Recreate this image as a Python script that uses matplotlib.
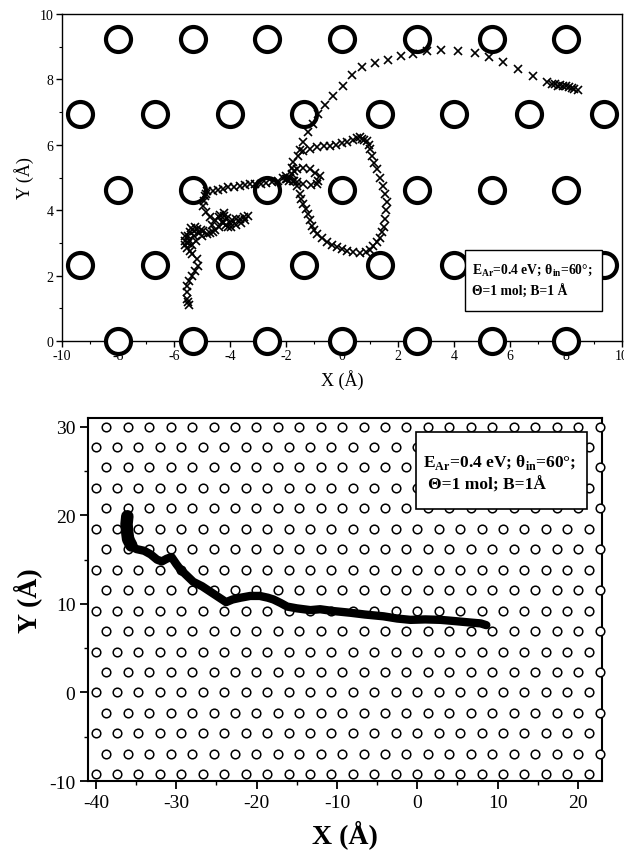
import numpy as np
import matplotlib
matplotlib.use('Agg')
import matplotlib.pyplot as plt
from matplotlib.patches import Rectangle

plt.rcParams['font.family'] = ['Liberation Serif', 'DejaVu Serif']
plt.rcParams['mathtext.fontset'] = 'custom'
plt.rcParams['mathtext.rm'] = 'Liberation Serif'
plt.rcParams['mathtext.bf'] = 'Liberation Serif:bold'
plt.rcParams['axes.unicode_minus'] = False

# ---- top panel: surface atoms (5 rows) ----
top_even_x = [-8.01, -5.34, -2.67, 0.0, 2.67, 5.34, 8.01]
top_odd_x = [-9.35, -6.68, -4.01, -1.34, 1.34, 4.01, 6.68, 9.35]
top_even_y = [0.0, 4.62, 9.24]
top_odd_y = [2.31, 6.93]

# trajectory crosses
traj1_x = [8.43, 8.3, 8.2, 8.1, 8.0, 7.9, 7.8, 7.7, 7.6, 7.5, 7.32,
           6.82, 6.29, 5.75, 5.25, 4.75, 4.14, 3.54, 3.04, 2.54, 2.11, 1.64,
           1.18, 0.71, 0.36, 0.04, -0.32, -0.61, -0.86, -1.05, -1.21, -1.39,
           -1.5, -1.57,
           -1.39, -1.15, -0.89, -0.65, -0.43, -0.2, 0.0, 0.18, 0.4, 0.55, 0.64,
           0.72, 0.8, 0.89, 0.95, 1.0, 1.07, 1.15, 1.25, 1.35, 1.46, 1.55, 1.61,
           1.58, 1.54, 1.5, 1.43, 1.35, 1.25, 1.12, 1.0, 0.85, 0.64, 0.4, 0.18,
           0.0, -0.18, -0.36, -0.54, -0.72, -0.89, -1.0, -1.07, -1.15, -1.21,
           -1.3, -1.39, -1.45, -1.5, -1.61, -1.7,
           -1.86, -1.95, -2.0, -1.8, -1.7, -1.61, -1.4, -1.14, -0.95, -0.79,
           -0.85, -0.89, -1.1, -1.39, -1.6, -1.75, -1.9, -2.0, -2.11, -1.8,
           -1.75, -2.3,
           -2.5, -2.7, -2.9, -3.1, -3.29, -3.46, -3.64, -3.86, -4.07, -4.25,
           -4.43, -4.6, -4.82, -4.86, -4.89, -4.93, -4.96, -4.85, -4.71,
           -4.55, -4.4, -4.36, -4.2, -4.1, -3.93, -3.8, -3.64, -3.5, -3.36,
           -3.45, -3.6, -3.8, -3.95, -4.07, -4.15, -4.25, -4.4, -4.54, -4.6,
           -4.7, -4.82, -4.95, -5.05, -5.18, -5.3, -5.43, -5.5, -5.6, -5.62,
           -5.55, -5.43, -5.35, -5.18, -5.14, -5.25, -5.36, -5.45, -5.54,
           -5.55, -5.52, -5.5, -5.48,
           -5.45, -5.3, -5.2, -5.35, -5.5, -5.6, -5.1, -5.0, -5.25, -5.4,
           -4.3, -4.0, -4.2, -4.65]
traj1_y = [7.68, 7.72, 7.75, 7.78, 7.8, 7.8, 7.82, 7.8, 7.85, 7.85, 7.92,
           8.1, 8.32, 8.53, 8.68, 8.8, 8.87, 8.9, 8.87, 8.78, 8.72, 8.6,
           8.5, 8.38, 8.13, 7.8, 7.49, 7.22, 6.94, 6.65, 6.4, 6.09,
           5.85, 5.66,
           5.81, 5.88, 5.93, 5.95, 5.96, 6.0, 6.05, 6.09, 6.15, 6.2, 6.24,
           6.18, 6.15, 6.12, 6.0, 5.87, 5.66, 5.45, 5.26, 5.0, 4.74, 4.5, 4.25,
           4.0, 3.73, 3.5, 3.33, 3.15, 3.03, 2.9, 2.78, 2.72, 2.7, 2.72, 2.75,
           2.8, 2.87, 2.95, 3.03, 3.15, 3.27, 3.4, 3.52, 3.7, 3.88,
           4.04, 4.19, 4.35, 4.5, 4.74, 4.88,
           5.0, 4.95, 5.05, 5.1, 5.2, 5.26, 5.3, 5.26, 5.15, 5.05,
           4.9, 4.8, 4.78, 4.8, 4.85, 4.89, 4.9, 4.95, 5.0, 5.3,
           5.47, 4.9,
           4.85, 4.82, 4.8, 4.8, 4.8, 4.77, 4.74, 4.72, 4.7, 4.66,
           4.62, 4.6, 4.59, 4.5, 4.43, 4.28, 4.13, 3.95, 3.8,
           3.7, 3.8, 3.85, 3.82, 3.75, 3.7, 3.72, 3.73, 3.78, 3.82,
           3.7, 3.62, 3.55, 3.5, 3.49, 3.55, 3.6, 3.5, 3.4, 3.33,
           3.3, 3.27, 3.35, 3.4, 3.43, 3.38, 3.33, 3.2, 3.06, 2.95,
           2.85, 2.75, 2.65, 2.5, 2.3, 2.15, 1.99, 1.85, 1.68,
           1.5, 1.3, 1.19, 1.1,
           3.1, 3.2, 3.05, 2.95, 3.0, 3.2, 3.3, 3.2, 3.5, 3.45,
           3.65, 3.6, 3.9, 3.55]

# ---- bottom panel: surface atoms (18 rows) ----
bot_even_x = [-40.05, -37.38, -34.71, -32.04, -29.37, -26.70, -24.03, -21.36,
              -18.69, -16.02, -13.35, -10.68, -8.01, -5.34, -2.67, 0.0, 2.67,
              5.34, 8.01, 10.68, 13.35, 16.02, 18.69, 21.36]
bot_odd_x = [-38.72, -36.05, -33.38, -30.71, -28.04, -25.37, -22.70, -20.03,
             -17.36, -14.69, -12.02, -9.35, -6.68, -4.01, -1.34, 1.34, 4.01,
             6.68, 9.35, 12.02, 14.69, 17.36, 20.03, 22.70]
bot_even_y = [-9.24, -4.62, 0.0, 4.62, 9.24, 13.86, 18.48, 23.1, 27.72]
bot_odd_y = [-6.93, -2.31, 2.31, 6.93, 11.55, 16.17, 20.79, 25.41, 30.03]

traj2_x = [-36.1, -36.2, -36.1, -36.0, -35.6, -35.0, -34.0, -33.2, -32.4,
           -31.8, -31.2, -30.6, -30.0, -29.5, -28.7, -27.9, -26.8, -25.8,
           -24.8, -23.8, -23.0, -22.0, -20.8, -19.6, -18.6, -17.9, -17.0,
           -16.2, -15.0, -13.3, -12.1, -10.5, -8.3, -6.5, -4.2, -2.5, -0.85,
           1.0, 2.9, 4.2, 5.4, 6.6, 7.9, 8.6]
traj2_y = [19.9, 19.0, 18.0, 17.3, 16.6, 16.2, 16.0, 15.6, 15.0,
           14.8, 15.1, 15.3, 14.5, 13.9, 13.2, 12.5, 12.0, 11.4,
           10.8, 10.2, 10.5, 10.7, 10.9, 10.9, 10.7, 10.5, 10.1,
           9.7, 9.5, 9.3, 9.4, 9.2, 9.0, 8.8, 8.6, 8.35, 8.2,
           8.25, 8.2, 8.1, 8.0, 7.9, 7.8, 7.6]

fig = plt.figure(figsize=(6.24, 8.54), dpi=100)

# ================= top panel =================
ax1 = fig.add_axes([0.0994, 0.5995, 0.8974, 0.3829])
for ys, xs in [(top_even_y, top_even_x), (top_odd_y, top_odd_x)]:
    for yv in ys:
        ax1.plot(xs, [yv] * len(xs), 'o', ms=18, mew=3.0, mec='black',
                 mfc='white', clip_on=False, zorder=3)
ax1.plot(traj1_x, traj1_y, 'x', color='black', ms=6, mew=1.2, zorder=4)

ax1.set_xlim(-10, 10)
ax1.set_ylim(0, 10)
ax1.set_xticks(np.arange(-10, 11, 2))
ax1.set_xticks(np.arange(-9, 10, 2), minor=True)
ax1.set_yticks(np.arange(0, 11, 2))
ax1.set_yticks(np.arange(1, 10, 2), minor=True)
ax1.tick_params(which='major', direction='out', length=4, width=1, labelsize=10, pad=2)
ax1.tick_params(which='minor', direction='out', length=2, width=0.8)
for s in ax1.spines.values():
    s.set_linewidth(1.0)
ax1.set_xlabel('X (Å)', fontsize=13)
ax1.set_ylabel('Y (Å)', fontsize=13)
ax1.xaxis.set_label_coords(0.5, -0.085)
ax1.yaxis.set_label_coords(-0.05, 0.5)

ax1.add_patch(Rectangle((0.72, 0.092), 0.244, 0.186, transform=ax1.transAxes,
                        facecolor='white', edgecolor='black', lw=1.0, zorder=6,
                        clip_on=False))
ax1.text(0.732, 0.22, r'E$_{\mathbf{Ar}}$=0.4 eV; θ$_{\mathbf{in}}$=60°;',
         transform=ax1.transAxes, fontsize=9.8, fontweight='bold',
         va='center', ha='left', zorder=7)
ax1.text(0.732, 0.153, 'Θ=1 mol; B=1 Å', transform=ax1.transAxes,
         fontsize=9.8, fontweight='bold', va='center', ha='left', zorder=7)

# ================= bottom panel =================
ax2 = fig.add_axes([0.141, 0.0843, 0.8237, 0.4251])
for ys, xs in [(bot_even_y, bot_even_x), (bot_odd_y, bot_odd_x)]:
    for yv in ys:
        ax2.plot(xs, [yv] * len(xs), 'o', ms=6.2, mew=1.1, mec='black',
                 mfc='white', clip_on=False, zorder=3)
ax2.plot(traj2_x, traj2_y, '-', color='black', lw=6, solid_capstyle='round',
         solid_joinstyle='round', zorder=4)
ax2.plot(traj2_x[:5], traj2_y[:5], '-', color='black', lw=9,
         solid_capstyle='round', zorder=4)

ax2.set_xlim(-41, 23)
ax2.set_ylim(-10, 31)
ax2.set_xticks(np.arange(-40, 21, 10))
ax2.set_xticks(np.arange(-35, 21, 10), minor=True)
ax2.set_yticks(np.arange(-10, 31, 10))
ax2.set_yticks(np.arange(-5, 31, 10), minor=True)
ax2.tick_params(which='major', direction='out', length=6, width=1.3, labelsize=14, pad=3)
ax2.tick_params(which='minor', direction='out', length=3, width=1.0)
for s in ax2.spines.values():
    s.set_linewidth(1.5)
ax2.set_xlabel('X (Å)', fontsize=20, fontweight='bold')
ax2.set_ylabel('Y (Å)', fontsize=20, fontweight='bold')
ax2.xaxis.set_label_coords(0.5, -0.105)
ax2.yaxis.set_label_coords(-0.09, 0.5)

ax2.add_patch(Rectangle((0.638, 0.749), 0.333, 0.212, transform=ax2.transAxes,
                        facecolor='white', edgecolor='black', lw=1.2, zorder=6))
ax2.text(0.652, 0.881, r'E$_{\mathbf{Ar}}$=0.4 eV; θ$_{\mathbf{in}}$=60°;',
         transform=ax2.transAxes, fontsize=12.5, fontweight='bold',
         va='center', ha='left', zorder=7)
ax2.text(0.661, 0.818, 'Θ=1 mol; B=1Å', transform=ax2.transAxes,
         fontsize=12.5, fontweight='bold', va='center', ha='left', zorder=7)

fig.savefig('out.png', dpi=100)
